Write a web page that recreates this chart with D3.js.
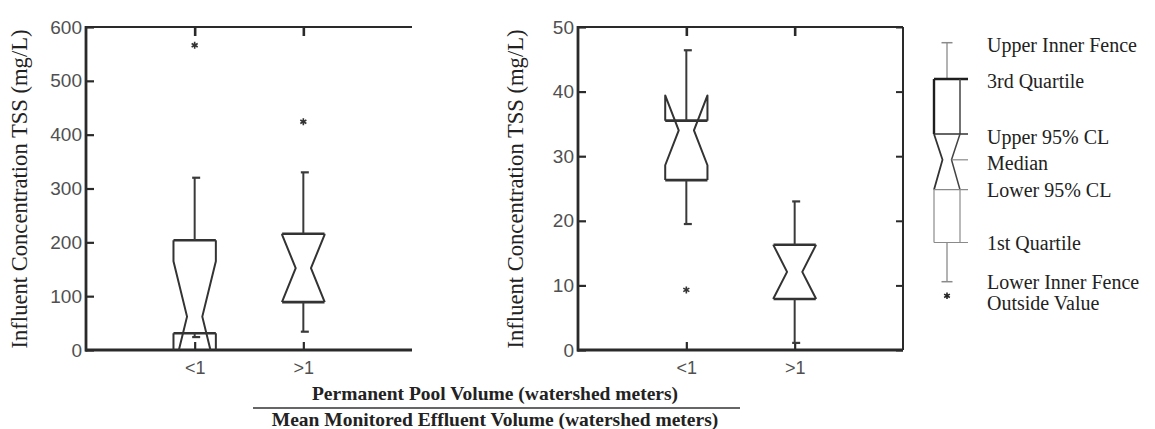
<!DOCTYPE html>
<html>
<head>
<meta charset="utf-8">
<script src="https://cdn.jsdelivr.net/npm/d3@7"></script>
<style>
  body { margin: 0; background: #fff; }
  svg { display: block; }
</style>
</head>
<body>
<svg id="chart" width="1155" height="429"></svg>
<script>
// Ratio groups: permanent pool volume / mean monitored effluent volume
const categories = ["<1", ">1"];

// Left panel: influent TSS, full range (mg/L)
const leftTicks = [0, 100, 200, 300, 400, 500, 600];
const leftLowerFence = [24, 34];
const leftQ1 = [31, 89];
const leftLowerCL = [-41, 90];
const leftMedian = [62, 152];
const leftUpperCL = [165, 214];
const leftQ3 = [204, 216];
const leftUpperFence = [320, 330];
const leftOutside = [[566], [424]];

// Right panel: influent TSS, 0-50 mg/L
const rightTicks = [0, 10, 20, 30, 40, 50];
const rightLowerFence = [19.5, 1.1];
const rightQ1 = [26.3, 7.9];
const rightLowerCL = [28.6, 8.0];
const rightMedian = [34.0, 12.1];
const rightUpperCL = [39.4, 16.2];
const rightQ3 = [35.5, 16.3];
const rightUpperFence = [46.4, 23.0];
const rightOutside = [[9.3], []];

// Key: a generic notched box on a 0-100 scale
const keyNames = ["Upper Inner Fence", "3rd Quartile", "Upper 95% CL", "Median",
                  "Lower 95% CL", "1st Quartile", "Lower Inner Fence", "Outside Value"];
const keyLevels = [100, 84.8, 61.8, 51, 38.5, 16.4, 0, -5.9];

const yLabel = "Influent Concentration TSS (mg/L)";
const xTitleTop = "Permanent Pool Volume (watershed meters)";
const xTitleBottom = "Mean Monitored Effluent Volume (watershed meters)";

const svg = d3.select("#chart");
svg.append("rect").attr("width", 1155).attr("height", 429).attr("fill", "#fff");

const sans = "'Liberation Sans', Arial, Helvetica, sans-serif";
const serif = "'Liberation Serif', 'Times New Roman', Times, serif";
const ink = "#2a2a2a";

const plotTop = 27, plotBottom = 350;

function panel(opts) {
  const { x0, x1, domainMax, ticks, stats, labelX, id, rightFrame } = opts;
  const g = svg.append("g");
  const x = d3.scalePoint().domain(categories).range([x0, x1]).padding(1);
  const y = d3.scaleLinear().domain([0, domainMax]).range([plotBottom, plotTop]);

  // clip so boxes never spill past the frame
  svg.append("clipPath").attr("id", id)
    .append("rect").attr("x", x0).attr("y", plotTop).attr("width", x1 - x0).attr("height", plotBottom - plotTop);

  // y axis with inward ticks
  const ya = g.append("g").attr("transform", `translate(${x0},0)`)
    .call(d3.axisLeft(y).tickValues(ticks).tickSize(-8).tickPadding(4).tickFormat(d3.format("d")));
  ya.select(".domain").remove();
  ya.selectAll(".tick line").attr("stroke", ink).attr("stroke-width", 2.2);
  ya.selectAll(".tick text").attr("font-family", sans).attr("font-size", 19).attr("fill", "#505050");

  // bottom axis with inward ticks
  const xa = g.append("g").attr("transform", `translate(0,${plotBottom})`)
    .call(d3.axisBottom(x).tickSize(-8).tickPadding(11));
  xa.select(".domain").remove();
  xa.selectAll(".tick line").attr("stroke", ink).attr("stroke-width", 2.2);
  xa.selectAll(".tick text").attr("font-family", sans).attr("font-size", 18).attr("fill", "#505050");

  // top ticks
  const ta = g.append("g").attr("transform", `translate(0,${plotTop})`)
    .call(d3.axisTop(x).tickSize(-9).tickFormat(""));
  ta.select(".domain").remove();
  ta.selectAll(".tick line").attr("stroke", ink).attr("stroke-width", 2.6);

  // frame
  g.append("line").attr("x1", x0).attr("x2", x0).attr("y1", plotTop - 1).attr("y2", plotBottom + 1.5)
    .attr("stroke", ink).attr("stroke-width", 2.8);
  g.append("line").attr("x1", x0 - 1).attr("x2", x1).attr("y1", plotBottom).attr("y2", plotBottom)
    .attr("stroke", ink).attr("stroke-width", 2.8);
  g.append("line").attr("x1", x0 - 1).attr("x2", x1).attr("y1", plotTop).attr("y2", plotTop)
    .attr("stroke", ink).attr("stroke-width", 2);
  if (rightFrame) {
    const ra = g.append("g").attr("transform", `translate(${x1},0)`)
      .call(d3.axisRight(y).tickValues(ticks).tickSize(-7).tickFormat(""));
    ra.select(".domain").remove();
    ra.selectAll(".tick line").attr("stroke", ink).attr("stroke-width", 2);
    g.append("line").attr("x1", x1).attr("x2", x1).attr("y1", plotTop).attr("y2", plotBottom)
      .attr("stroke", ink).attr("stroke-width", 2);
  }

  // y axis title
  g.append("text")
    .attr("transform", `translate(${labelX},${(plotTop + plotBottom) / 2 + 0.5}) rotate(-90)`)
    .attr("text-anchor", "middle")
    .attr("font-family", serif).attr("font-size", 22.6).attr("fill", "#222")
    .text(yLabel);

  // notched boxes
  const hw = x.step() * 0.195;       // half box width
  const nw = hw * 0.36;              // half width at the notch
  const boxes = g.append("g").attr("clip-path", `url(#${id})`);
  categories.forEach((c, i) => {
    const cx = x(c);
    const s = {
      lf: stats.lowerFence[i], q1: stats.q1[i], lcl: stats.lowerCL[i], md: stats.median[i],
      ucl: stats.upperCL[i], q3: stats.q3[i], uf: stats.upperFence[i]
    };
    const side = sgn => d3.line()([
      [cx + sgn * hw, y(s.q3)], [cx + sgn * hw, y(s.ucl)], [cx + sgn * nw, y(s.md)],
      [cx + sgn * hw, y(s.lcl)], [cx + sgn * hw, y(s.q1)]
    ]);
    [-1, 1].forEach(sgn => boxes.append("path").attr("d", side(sgn))
      .attr("fill", "none").attr("stroke", "#333").attr("stroke-width", 2).attr("stroke-linejoin", "round"));
    [s.q3, s.q1].forEach(v => boxes.append("line")
      .attr("x1", cx - hw).attr("x2", cx + hw).attr("y1", y(v)).attr("y2", y(v))
      .attr("stroke", "#333").attr("stroke-width", 2.6));

    // whiskers and caps
    [[s.q3, s.uf], [s.q1, s.lf]].forEach(([from, to]) => {
      boxes.append("line").attr("x1", cx).attr("x2", cx).attr("y1", y(from)).attr("y2", y(to))
        .attr("stroke", "#3a3a3a").attr("stroke-width", 2);
      boxes.append("line").attr("x1", cx - 2.5).attr("x2", cx + 5.5).attr("y1", y(to)).attr("y2", y(to))
        .attr("stroke", "#3a3a3a").attr("stroke-width", 2.2);
    });

    // outside values
    stats.outside[i].forEach(v => boxes.append("path")
      .attr("transform", `translate(${cx},${y(v)})`)
      .attr("d", d3.symbol(d3.symbolAsterisk, 34)())
      .attr("fill", "none").attr("stroke", "#333").attr("stroke-width", 1.6));
  });
}

panel({
  x0: 86, x1: 412, domainMax: 600, ticks: leftTicks, labelX: 27, id: "clipL", rightFrame: false,
  stats: { lowerFence: leftLowerFence, q1: leftQ1, lowerCL: leftLowerCL, median: leftMedian,
           upperCL: leftUpperCL, q3: leftQ3, upperFence: leftUpperFence, outside: leftOutside }
});
panel({
  x0: 578, x1: 903, domainMax: 50, ticks: rightTicks, labelX: 523, id: "clipR", rightFrame: true,
  stats: { lowerFence: rightLowerFence, q1: rightQ1, lowerCL: rightLowerCL, median: rightMedian,
           upperCL: rightUpperCL, q3: rightQ3, upperFence: rightUpperFence, outside: rightOutside }
});

// shared x title written as a fraction
const tx = 495;
svg.append("text").attr("x", tx).attr("y", 400).attr("text-anchor", "middle")
  .attr("font-family", serif).attr("font-weight", "bold").attr("font-size", 19.5).attr("fill", "#222")
  .text(xTitleTop);
svg.append("line").attr("x1", 253).attr("x2", 740).attr("y1", 408).attr("y2", 408)
  .attr("stroke", "#333").attr("stroke-width", 1.3);
svg.append("text").attr("x", tx).attr("y", 426).attr("text-anchor", "middle")
  .attr("font-family", serif).attr("font-weight", "bold").attr("font-size", 19.5).attr("fill", "#222")
  .text(xTitleBottom);

// key
const ky = d3.scaleLinear().domain([0, 100]).range([281.7, 42.7]);
const kx = 947, khw = 13, knw = 4.5, kEnd = 968;
const lv = name => keyLevels[keyNames.indexOf(name)];
const key = svg.append("g");
const dark = "#1e1e1e", light = "#8a8a8a";
const kl = (x1, x2, y1, y2, c, w) => key.append("line").attr("x1", x1).attr("x2", x2)
  .attr("y1", y1).attr("y2", y2).attr("stroke", c).attr("stroke-width", w);

const yUF = ky(lv("Upper Inner Fence")), yQ3 = ky(lv("3rd Quartile")), yUC = ky(lv("Upper 95% CL")),
      yMd = ky(lv("Median")), yLC = ky(lv("Lower 95% CL")), yQ1 = ky(lv("1st Quartile")),
      yLF = ky(lv("Lower Inner Fence")), yOV = ky(lv("Outside Value"));

// upper whisker
kl(kx, kx, yUF, yQ3, light, 1.3);
kl(kx - 5.5, kx + 5.5, yUF, yUF, light, 1.5);
// upper half of box
kl(kx - khw, kEnd, yQ3, yQ3, dark, 2.4);
kl(kx - khw, kx - khw, yQ3, yUC, dark, 2.4);
kl(kx + khw, kx + khw, yQ3, yUC, "#444", 1.5);
kl(kx - khw, kEnd, yUC, yUC, "#333", 1.6);
// notch
key.append("path").attr("d", d3.line()([[kx - khw, yUC], [kx - knw, yMd], [kx - khw, yLC]]))
  .attr("fill", "none").attr("stroke", "#333").attr("stroke-width", 1.8);
key.append("path").attr("d", d3.line()([[kx + khw, yUC], [kx + knw, yMd], [kx + khw, yLC]]))
  .attr("fill", "none").attr("stroke", "#444").attr("stroke-width", 1.5);
kl(kx + knw, kEnd, yMd, yMd, light, 1.2);
kl(kx - khw, kEnd, yLC, yLC, light, 1.2);
// lower half of box
kl(kx - khw, kx - khw, yLC, yQ1, light, 1.2);
kl(kx + khw, kx + khw, yLC, yQ1, light, 1.2);
kl(kx - khw, kEnd, yQ1, yQ1, light, 1.2);
// lower whisker
kl(kx, kx, yQ1, yLF, light, 1.3);
kl(kx - 5.5, kx + 5.5, yLF, yLF, light, 1.5);
// outside value
key.append("path").attr("transform", `translate(${kx},${yOV})`)
  .attr("d", d3.symbol(d3.symbolAsterisk, 30)())
  .attr("fill", "none").attr("stroke", "#222").attr("stroke-width", 1.6);

// key labels (the crowded ones are nudged apart)
const nudge = { "Median": 3, "Outside Value": 7, "Upper Inner Fence": 2, "3rd Quartile": 2, "Upper 95% CL": 3 };
key.selectAll("text.klab").data(keyNames).join("text").attr("class", "klab")
  .attr("x", 987)
  .attr("y", d => ky(lv(d)) + 7 + (nudge[d] || 0))
  .attr("font-family", serif).attr("font-size", 20).attr("fill", "#222")
  .text(d => d);
</script>
</body>
</html>
